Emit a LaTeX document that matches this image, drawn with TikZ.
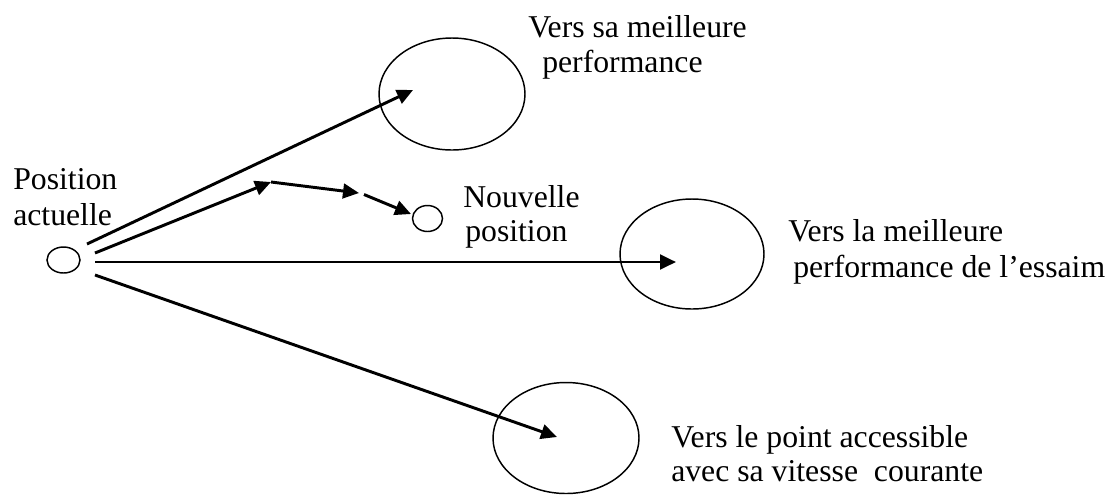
\documentclass[tikz,border=0pt]{standalone}
\usepackage{fontspec}
\setmainfont{Liberation Serif}
\usetikzlibrary{arrows.meta}
\begin{document}
\begin{tikzpicture}[x=0.75pt,y=-0.75pt,
  region/.style={draw=black,line width=1.1pt},
  vec/.style={line width=2.2pt,-{Triangle[length=12pt,width=11pt]}},
  lbl/.style={anchor=base west,inner sep=0pt,font=\fontsize{23.8}{27}\selectfont}]
\path[use as bounding box] (0,0) rectangle (1119,494);
% positions
\draw[region] (63.5,260) ellipse [x radius=16.5,y radius=13] coordinate (cur);
\draw[region] (427.5,218.5) ellipse [x radius=15,y radius=13] coordinate (new);
\draw[region] (452,94) ellipse [x radius=73,y radius=56] coordinate (pbest);
\draw[region] (692,254) ellipse [x radius=72,y radius=55] coordinate (gbest);
\draw[region] (566,438) ellipse [x radius=73,y radius=55.5] coordinate (vel);
% arrow end points
\coordinate (s1) at (87,244);
\coordinate (e1) at (413,90);
\coordinate (s2) at (95,253);
\coordinate (e2) at (271,182);
\coordinate (e3) at (359,193);
\coordinate (s4) at (364,194.5);
\coordinate (e4) at (411,214);
\coordinate (s5) at (95,262);
\coordinate (e5) at (676,262);
\coordinate (s6) at (95,275);
\coordinate (e6) at (557,437);
\draw[vec] (s1) -- (e1);
\draw[vec] (s2) -- (e2);
\draw[vec] (e2) -- (e3);
\draw[vec] (s4) -- (e4);
\draw[vec] (s5) -- (e5);
\draw[vec] (s6) -- (e6);
% labels
\node[lbl] (l1a) at (13,189) {Position};
\node[lbl] (l1b) at (13,225) {actuelle};
\node[lbl] (l2a) at (463,207) {Nouvelle};
\node[lbl] (l2b) at (465,241) {position};
\node[lbl] (l3a) at (528,37) {Vers sa meilleure};
\node[lbl] (l3b) at (542,72) {performance};
\node[lbl] (l4a) at (788,241) {Vers la meilleure};
\node[lbl] (l4b) at (793,277) {performance de l’essaim};
\node[lbl] (l5a) at (671,447) {Vers le point accessible};
\node[lbl] (l5b) at (671,481) {avec sa vitesse\ \ courante};
\end{tikzpicture}
\end{document}
